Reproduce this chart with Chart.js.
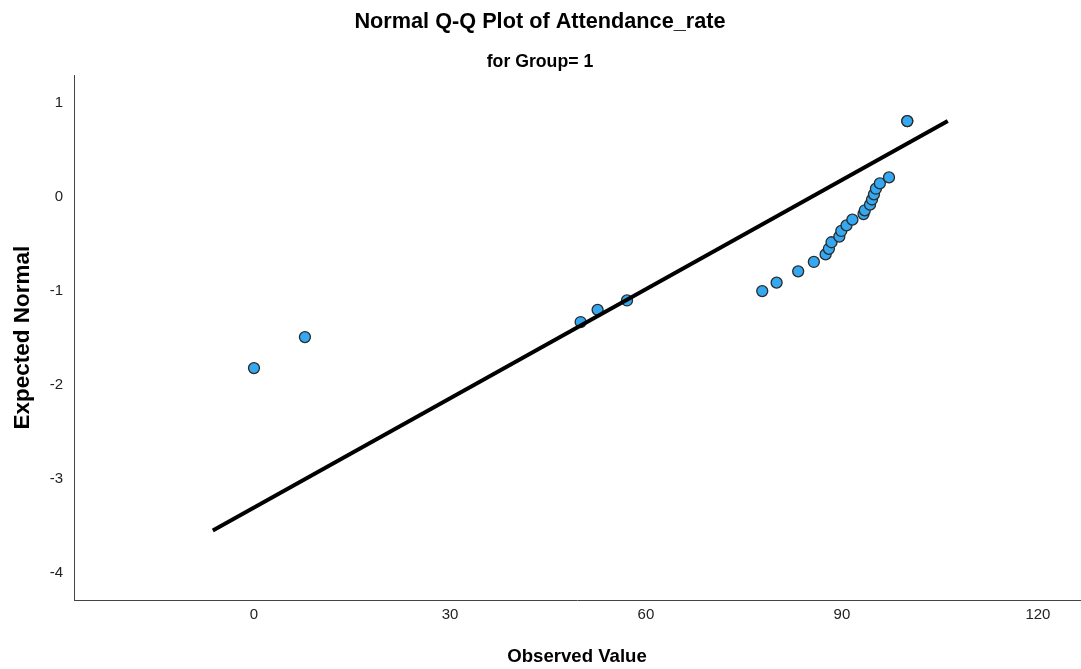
<!DOCTYPE html>
<html>
<head>
<meta charset="utf-8">
<script src="https://cdn.jsdelivr.net/npm/chart.js@4"></script>
<style>
    body { margin: 0; background: #fff; }
    canvas { display: block; }
</style>
</head>
<body>
<canvas id="graficoQQ" width="1081" height="669"></canvas>
<script>
// valores
const observados = [0, 7.8, 50, 52.6, 57.1, 77.8, 80, 83.3, 85.7, 87.5, 88, 88.4, 89.6, 89.9, 90.7, 91.6, 93.3, 93.5, 94.3, 94.6, 94.9, 95.2, 95.8, 97.2, 100, 100];
const esperados = [-1.82, -1.49, -1.33, -1.2, -1.1, -1.0, -0.91, -0.79, -0.69, -0.61, -0.55, -0.48, -0.42, -0.36, -0.3, -0.24, -0.18, -0.14, -0.08, -0.025, 0.03, 0.09, 0.146, 0.21, 0.81, 0.81];

// linha de referencia (extremos)
const linhaX = [-6.3, 106.2];
const linhaY = [-3.55, 0.81];

const ticksX = [0, 30, 60, 90, 120];
const ticksY = [-4, -3, -2, -1, 0, 1];

const fonte = "'Liberation Sans', Arial, sans-serif";

let pontos = [];
for (let i = 0; i < observados.length; i++) {
    pontos.push({ x: observados[i], y: esperados[i] });
}
let linha = [];
for (let i = 0; i < linhaX.length; i++) {
    linha.push({ x: linhaX[i], y: linhaY[i] });
}

const dados = {
    datasets: [
        {
            type: 'line',
            label: 'Linha',
            data: linha,
            borderColor: '#000',
            borderWidth: 4,
            pointRadius: 0,
            fill: false,
            order: 0
        },
        {
            type: 'scatter',
            label: 'Observado',
            data: pontos,
            backgroundColor: 'rgb(52, 168, 240)',
            borderColor: '#2b2b2b',
            borderWidth: 1.3,
            pointRadius: 5.5,
            order: 1
        }
    ]
};

const config = {
    type: 'scatter',
    data: dados,
    options: {
        responsive: false,
        animation: false,
        devicePixelRatio: 1,
        layout: {
            autoPadding: false,
            padding: { top: 0, left: 0, right: 1, bottom: 0 }
        },
        plugins: {
            legend: { display: false },
            tooltip: { enabled: false },
            title: {
                display: true,
                text: 'Normal Q-Q Plot of Attendance_rate',
                color: '#000',
                font: { family: fonte, size: 21.7, weight: 'bold' },
                padding: { top: 9, bottom: 0 }
            },
            subtitle: {
                display: true,
                text: 'for Group= 1',
                color: '#000',
                font: { family: fonte, size: 17.7, weight: 'bold' },
                padding: { top: 16.4, bottom: 2.4 }
            }
        },
        scales: {
            x: {
                type: 'linear',
                min: -27.55,
                max: 126.44,
                afterBuildTicks: function (axis) {
                    axis.ticks = ticksX.map(function (v) { return { value: v }; });
                },
                afterFit: function (scale) {
                    scale.height = 69;
                    scale.paddingLeft = 0;
                    scale.paddingRight = 0;
                },
                grid: { display: false, drawTicks: false },
                border: { display: true, color: '#444', width: 1 },
                ticks: {
                    color: '#222',
                    padding: 6,
                    maxRotation: 0,
                    font: { family: fonte, size: 15 }
                },
                title: {
                    display: true,
                    text: 'Observed Value',
                    color: '#000',
                    font: { family: fonte, size: 18.6, weight: 'bold' },
                    padding: { top: 0, bottom: 1 }
                }
            },
            y: {
                type: 'linear',
                min: -4.29,
                max: 1.3,
                afterBuildTicks: function (axis) {
                    axis.ticks = ticksY.map(function (v) { return { value: v }; });
                },
                afterFit: function (scale) { scale.width = 74; },
                grid: { display: false, drawTicks: false },
                border: { display: true, color: '#444', width: 1 },
                ticks: {
                    color: '#222',
                    padding: 11,
                    font: { family: fonte, size: 15 }
                },
                title: {
                    display: true,
                    text: 'Expected Normal',
                    color: '#000',
                    font: { family: fonte, size: 22.5, weight: 'bold' },
                    padding: { top: 9, bottom: 0 }
                }
            }
        }
    }
};

new Chart(
    document.getElementById('graficoQQ'),
    config
);
</script>
</body>
</html>
